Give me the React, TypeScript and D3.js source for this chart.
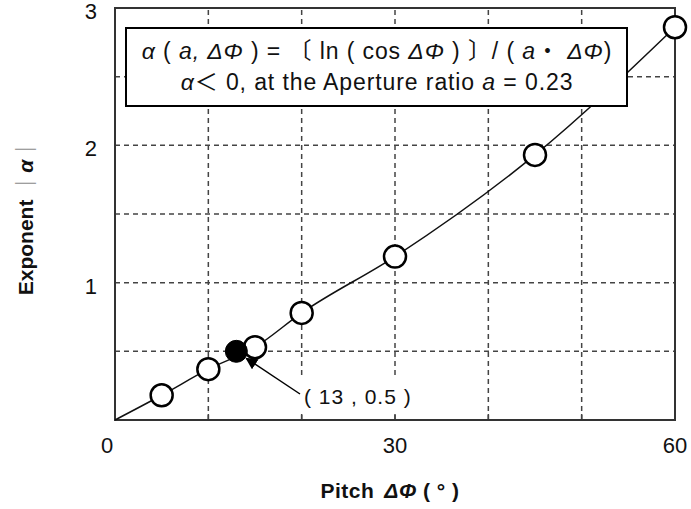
import * as d3 from "d3";

const curveX = [0, 5, 10, 15, 20, 30, 45, 60];
const curveY = [0, 0.18, 0.37, 0.53, 0.78, 1.19, 1.93, 2.86];
const openX = [5, 10, 15, 20, 30, 45, 60];
const openY = [0.18, 0.37, 0.53, 0.78, 1.19, 1.93, 2.86];
const markX = [13];
const markY = [0.5];
const xTicks = [0, 30, 60];
const yTicks = [1, 2, 3];
const xGrid = [10, 20, 30, 40, 50];
const yGrid = [0.5, 1, 1.5, 2, 2.5];

const W = 691;
const H = 509;
const FONT = '"Liberation Sans", Arial, "Noto Sans CJK JP", sans-serif';

export default function App() {
  const x = d3.scaleLinear().domain([0, 60]).range([115, 675]);
  const y = d3.scaleLinear().domain([0, 3]).range([420, 8]);

  const line = d3
    .line<number>()
    .x((d) => x(curveX[d]))
    .y((d) => y(curveY[d]))
    .curve(d3.curveMonotoneX);

  const mx = x(markX[0]);
  const my = y(markY[0]);

  return (
    <svg
      width={W}
      height={H}
      style={{ position: "absolute", left: 0, top: 0, background: "#fff" }}
      fontFamily={FONT}
    >
      <defs>
        <marker id="arr" viewBox="0 0 10 10" refX="9" refY="5" markerWidth="8" markerHeight="8" orient="auto">
          <path d="M0,0 L10,5 L0,10 z" fill="#000" />
        </marker>
      </defs>

      {/* grid */}
      {xGrid.map((g) => (
        <line key={"gx" + g} x1={x(g)} x2={x(g)} y1={y(0)} y2={y(3)} stroke="#444" strokeWidth={1.5} strokeDasharray="5,4" />
      ))}
      {yGrid.map((g) => (
        <line key={"gy" + g} x1={x(0)} x2={x(60)} y1={y(g)} y2={y(g)} stroke="#444" strokeWidth={1.5} strokeDasharray="5,4" />
      ))}

      {/* annotation label background hides the grid */}
      <rect x={296} y={377} width={134} height={36} fill="#fff" />
      {xGrid.map((g) => (
        <line key={"tk" + g} x1={x(g)} x2={x(g)} y1={y(0)} y2={y(0) - 6} stroke="#444" strokeWidth={1.5} />
      ))}

      {/* frame */}
      <rect x={x(0)} y={y(3)} width={x(60) - x(0)} height={y(0) - y(3)} fill="none" stroke="#333" strokeWidth={2} />

      {/* curve */}
      <path d={line(d3.range(curveX.length)) || ""} fill="none" stroke="#111" strokeWidth={1.5} />

      {openX.map((v, i) => (
        <circle key={"o" + i} cx={x(v)} cy={y(openY[i])} r={11} fill="#fff" stroke="#000" strokeWidth={2.5} />
      ))}
      {markX.map((v, i) => (
        <circle key={"m" + i} cx={x(v)} cy={y(markY[i])} r={11} fill="#000" stroke="#000" strokeWidth={1} />
      ))}

      {/* annotation */}
      <line x1={300} y1={394} x2={mx + 10} y2={my + 7} stroke="#000" strokeWidth={1.5} markerEnd="url(#arr)" />
      <text x={304} y={404} fontSize={21} letterSpacing={1} fill="#111">
        ( 13 , 0.5 )
      </text>

      {/* formula box */}
      <rect x={126} y={28} width={501} height={78} fill="#fff" stroke="#000" strokeWidth={2} />
      <text x={377} y={59} fontSize={23} letterSpacing={0.9} textAnchor="middle" fill="#111">
        <tspan fontStyle="italic">α</tspan> ( <tspan fontStyle="italic">a, ΔΦ</tspan> ) =  〔 ln  ( cos <tspan fontStyle="italic">ΔΦ</tspan> ) 〕/ ( <tspan fontStyle="italic">a</tspan>・ <tspan fontStyle="italic">ΔΦ</tspan>)
      </text>
      <text x={377} y={90} fontSize={23} letterSpacing={0.9} textAnchor="middle" fill="#111">
        <tspan fontStyle="italic">α</tspan>＜ 0, at the Aperture ratio <tspan fontStyle="italic">a</tspan> = 0.23
      </text>

      {/* tick labels */}
      {yTicks.map((t) => (
        <text key={"yt" + t} x={97} y={y(t) + 11} fontSize={22} textAnchor="end" fill="#111">
          {t}
        </text>
      ))}
      {xTicks.map((t) => (
        <text key={"xt" + t} x={x(t) - (t === 0 ? 8 : 0)} y={453} fontSize={22} textAnchor="middle" fill="#111">
          {t}
        </text>
      ))}

      {/* axis titles */}
      <text x={390} y={498} fontSize={21} fontWeight="bold" letterSpacing={0.5} textAnchor="middle" fill="#111">
        Pitch<tspan dx={10} fontStyle="italic">ΔΦ</tspan> ( ° )
      </text>
      <text transform="translate(33,217) rotate(-90)" fontSize={21} fontWeight="bold" textAnchor="middle" fill="#111">
        Exponent <tspan fontWeight="normal" fill="#888">｜</tspan><tspan fontStyle="italic">α</tspan><tspan fontWeight="normal" fill="#888">｜</tspan>
      </text>
    </svg>
  );
}
